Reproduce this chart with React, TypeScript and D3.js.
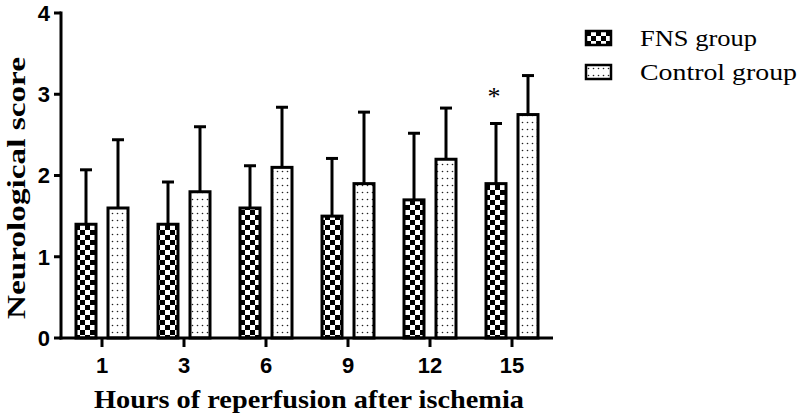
import React from "react";
import * as d3 from "d3";

const categories = ["1", "3", "6", "9", "12", "15"];
const seriesNames = ["FNS group", "Control group"];
const fnsMeans = [1.4, 1.4, 1.6, 1.5, 1.7, 1.9];
const fnsErr = [0.67, 0.52, 0.52, 0.71, 0.82, 0.74];
const ctrlMeans = [1.6, 1.8, 2.1, 1.9, 2.2, 2.75];
const ctrlErr = [0.84, 0.8, 0.74, 0.88, 0.63, 0.48];
const yTicks = [0, 1, 2, 3, 4];
const significant = [false, false, false, false, false, true];

const W = 800;
const H = 417;

export default function App() {
  const x = d3.scaleBand<string>().domain(categories).range([61, 553]).padding(0);
  const inner = d3
    .scaleBand<string>()
    .domain(seriesNames)
    .range([0, x.bandwidth()])
    .paddingInner(0.375)
    .paddingOuter(0.46875);
  const y = d3.scaleLinear().domain([0, 4]).range([338, 13]);

  const series = [
    { name: seriesNames[0], means: fnsMeans, errs: fnsErr, fill: "url(#checker)", legW: 117 },
    { name: seriesNames[1], means: ctrlMeans, errs: ctrlErr, fill: "url(#dots)", legW: 157 },
  ];

  const serif = "'Liberation Serif', 'Times New Roman', serif";
  const sans = "'Liberation Sans', Arial, sans-serif";

  return (
    <svg
      width={W}
      height={H}
      style={{ position: "absolute", left: 0, top: 0, background: "#fff" }}
    >
      <defs>
        <pattern id="checker" patternUnits="userSpaceOnUse" width={10} height={10}>
          <rect width={10} height={10} fill="#fff" />
          <rect x={0} y={0} width={5} height={5} fill="#000" />
          <rect x={5} y={5} width={5} height={5} fill="#000" />
        </pattern>
        <pattern id="dots" patternUnits="userSpaceOnUse" width={5} height={7}>
          <rect width={5} height={7} fill="#fff" />
          <circle cx={2.5} cy={3.5} r={0.8} fill="#222" />
        </pattern>
      </defs>

      {series.map((s) =>
        categories.map((c, i) => {
          const bx = (x(c) as number) + (inner(s.name) as number);
          const bw = inner.bandwidth();
          const cx = bx + bw / 2;
          const top = y(s.means[i]);
          const errTop = y(s.means[i] + s.errs[i]);
          return (
            <g key={s.name + c}>
              <line x1={cx} x2={cx} y1={top} y2={errTop} stroke="#000" strokeWidth={3} />
              <line x1={cx - 6} x2={cx + 6} y1={errTop} y2={errTop} stroke="#000" strokeWidth={3} />
              <rect
                x={bx}
                y={top}
                width={bw}
                height={y(0) - top}
                fill={s.fill}
                stroke="#000"
                strokeWidth={3}
              />
            </g>
          );
        })
      )}

      {/* significance */}
      {categories.map((c, i) =>
        significant[i] ? (
          <text
            key={"sig" + c}
            x={(x(c) as number) + (inner(seriesNames[0]) as number) + inner.bandwidth() / 2 - 2}
            y={y(fnsMeans[i] + fnsErr[i]) - 19}
            textAnchor="middle"
            fontFamily={serif}
            fontSize={26}
            fill="#000"
          >
            *
          </text>
        ) : null
      )}

      {/* y axis */}
      <line x1={61} x2={61} y1={y(4) - 1.5} y2={y(0) + 1.5} stroke="#000" strokeWidth={3} />
      {yTicks.map((t) => (
        <g key={"yt" + t}>
          <line x1={54} x2={61} y1={y(t)} y2={y(t)} stroke="#000" strokeWidth={3} />
          <text
            x={50}
            y={y(t)}
            dy="0.36em"
            textAnchor="end"
            fontFamily={sans}
            fontWeight="bold"
            fontSize={22}
          >
            {t}
          </text>
        </g>
      ))}

      {/* x axis */}
      <line x1={59.5} x2={553} y1={y(0)} y2={y(0)} stroke="#000" strokeWidth={3} />
      {categories.map((c) => {
        const cx = (x(c) as number) + x.bandwidth() / 2;
        return (
          <g key={"xt" + c}>
            <line x1={cx} x2={cx} y1={y(0)} y2={y(0) + 9} stroke="#000" strokeWidth={3} />
            <text
              x={cx}
              y={373}
              textAnchor="middle"
              fontFamily={sans}
              fontWeight="bold"
              fontSize={22}
            >
              {c}
            </text>
          </g>
        );
      })}

      {/* axis titles */}
      <text
        x={309}
        y={408}
        textAnchor="middle"
        fontFamily={serif}
        fontWeight="bold"
        fontSize={26}
        textLength={430}
        lengthAdjust="spacingAndGlyphs"
      >
        Hours of reperfusion after ischemia
      </text>
      <text
        transform={`translate(25, 188) rotate(-90)`}
        textAnchor="middle"
        fontFamily={serif}
        fontWeight="bold"
        fontSize={25}
        textLength={262}
        lengthAdjust="spacingAndGlyphs"
      >
        Neurological score
      </text>

      {/* legend */}
      {series.map((s, i) => (
        <g key={"lg" + s.name} transform={`translate(586, ${31 + i * 34})`}>
          <rect x={0} y={0} width={25} height={14} fill={s.fill} stroke="#000" strokeWidth={2.5} />
          <text
            x={54}
            y={15}
            fontFamily={serif}
            fontSize={23}
            textLength={s.legW}
            lengthAdjust="spacingAndGlyphs"
          >
            {s.name}
          </text>
        </g>
      ))}
    </svg>
  );
}
